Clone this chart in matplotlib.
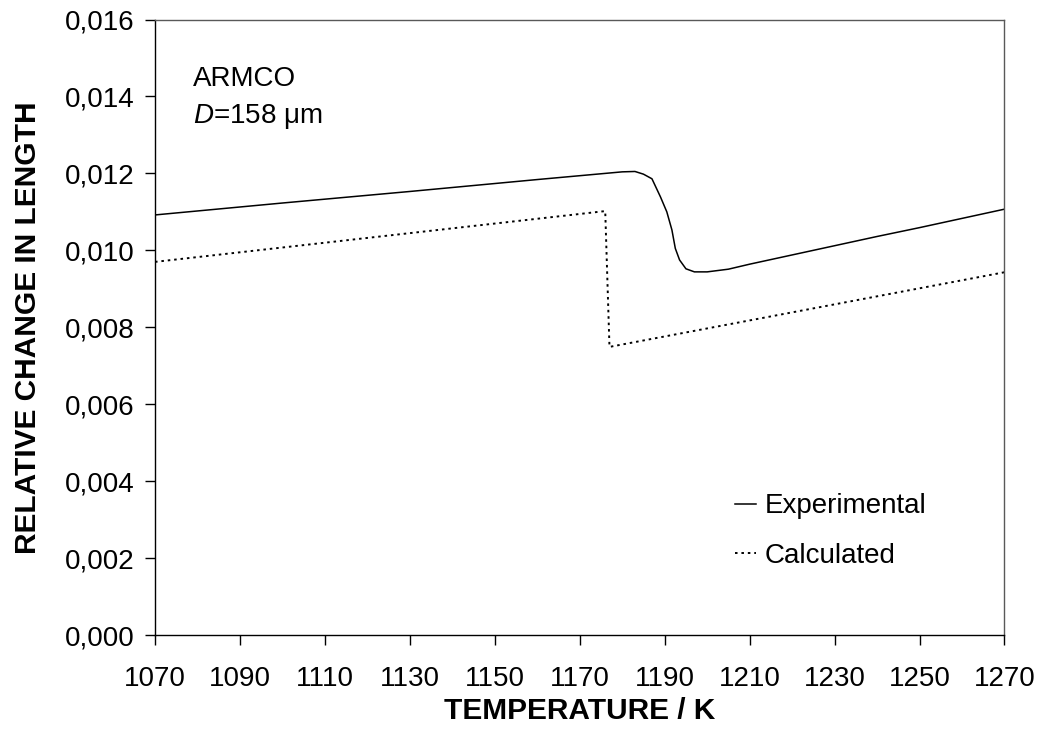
import matplotlib
matplotlib.use("Agg")
import matplotlib.pyplot as plt
from matplotlib.ticker import FuncFormatter

plt.rcParams['font.family'] = ['Liberation Sans', 'DejaVu Sans']
plt.rcParams['mathtext.fontset'] = 'custom'
plt.rcParams['mathtext.rm'] = 'Liberation Sans'
plt.rcParams['mathtext.it'] = 'Liberation Sans:italic'

# data
T_exp = [1070, 1100, 1130, 1160, 1175, 1180, 1183, 1185, 1187, 1189, 1190.5,
         1191.7, 1192.5, 1193.5, 1195, 1197, 1200, 1205, 1210, 1220, 1230,
         1240, 1250, 1260, 1270]
dl_exp = [0.01092, 0.01123, 0.01153, 0.01184, 0.01199, 0.01204, 0.01205,
          0.01198, 0.01186, 0.01139, 0.01100, 0.01053, 0.01005, 0.00975,
          0.00952, 0.00944, 0.00944, 0.00951, 0.00964, 0.00988, 0.01012,
          0.01036, 0.01059, 0.01083, 0.01107]

T_calc = [1070, 1176, 1177, 1270]
dl_calc = [0.00970, 0.01102, 0.00749, 0.00943]

x_ticks = list(range(1070, 1271, 20))
y_ticks = [0.000, 0.002, 0.004, 0.006, 0.008, 0.010, 0.012, 0.014, 0.016]

fig = plt.figure(figsize=(10.46, 7.31), dpi=100)
ax = fig.add_axes([0.1482, 0.1313, 0.8121, 0.842])

ax.plot(T_exp, dl_exp, color="black", linewidth=1.1, label="Experimental")
ax.plot(T_calc, dl_calc, color="black", linewidth=1.4, dashes=(1.3, 2.0),
        label="Calculated")

ax.set_xlim(1070, 1270)
ax.set_ylim(0, 0.016)
ax.set_xticks(x_ticks)
ax.set_yticks(y_ticks)
ax.yaxis.set_major_formatter(FuncFormatter(lambda v, p: f"{v:.3f}".replace(".", ",")))
ax.tick_params(direction="out", length=7, width=1, labelsize=20)
ax.tick_params(axis="x", pad=15)
ax.tick_params(axis="y", pad=8)

for s in ["top", "right"]:
    ax.spines[s].set_color("0.35")
for s in ax.spines.values():
    s.set_linewidth(1)

ax.set_xlabel("TEMPERATURE / K", fontsize=21.5, fontweight="bold", labelpad=4)
ax.set_ylabel("RELATIVE CHANGE IN LENGTH", fontsize=21.5, fontweight="bold", labelpad=16)

ax.text(0.045, 0.892, "ARMCO", transform=ax.transAxes, fontsize=20)
ax.text(0.045, 0.832, r"$\mathit{D}$=158 μm", transform=ax.transAxes, fontsize=20)

ax.legend(loc="upper left", bbox_to_anchor=(0.683, 0.23), frameon=False,
          fontsize=20, handlelength=0.75, handletextpad=0.3, labelspacing=0.84,
          borderpad=0, borderaxespad=0)

fig.savefig("out.png", dpi=100)
